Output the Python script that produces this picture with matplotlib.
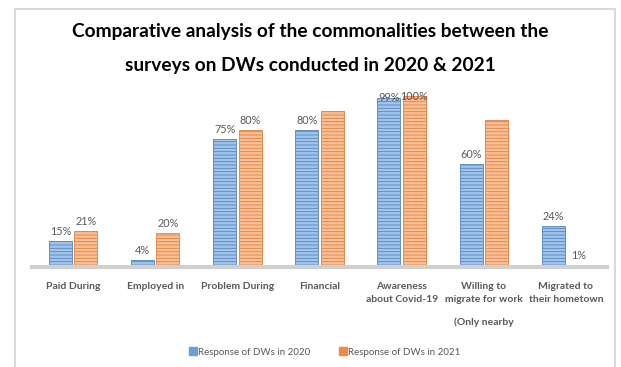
import matplotlib.pyplot as plt
from matplotlib.patches import Rectangle
import numpy as np

plt.rcParams['font.family'] = ['Lato', 'DejaVu Sans']
plt.rcParams['hatch.linewidth'] = 0.6

categories = ["Paid During", "Employed in", "Problem During", "Financial",
              "Awareness\nabout Covid-19", "Willing to\nmigrate for work",
              "Migrated to\ntheir hometown"]
resp_2020 = [15, 4, 75, 80, 99, 60, 24]
resp_2021 = [21, 20, 80, 91, 100, 86, 1]
# the 2021 series has no value label on Financial and Willing to migrate
show_2021 = [True, True, True, False, True, False, True]
series_names = ["Response of DWs in 2020", "Response of DWs in 2021"]

fig = plt.figure(figsize=(6.21, 3.67), dpi=100)

# light grey chart frame
fig.patches.append(Rectangle((15 / 621, -0.05), 600 / 621, 1.05 - 9 / 367,
                             transform=fig.transFigure, fill=False,
                             edgecolor='#d9d9d9', linewidth=1.5))

fig.text(0.5, 1 - 31 / 367,
         "Comparative analysis of the commonalities between the",
         ha='center', va='center', fontsize=13.8, fontweight='bold', color='black')
fig.text(0.5, 1 - 66 / 367, "surveys on DWs conducted in 2020 & 2021",
         ha='center', va='center', fontsize=13.8, fontweight='bold', color='black')

ax = fig.add_axes([32 / 621, 1 - 267 / 367, 575 / 621, 188 / 367])

x = np.arange(len(categories))
w = 0.28
gap = 0.015
b1 = ax.bar(x - w / 2 - gap, resp_2020, w, color='#a2c4ea', edgecolor='#5584bd',
            hatch='-----', linewidth=0.6)
b2 = ax.bar(x + w / 2 + gap, resp_2021, w, color='#f9c096', edgecolor='#e0813f',
            hatch='-----', linewidth=0.6)
# the 1% bar is very pale
b2[6].set_edgecolor('#f6d3b8')
b2[6].set_facecolor('#fbe3d0')

ax.set_xlim(-0.5, len(categories) - 0.5)
ax.set_ylim(0, 110)


def add_labels(bars, values, flags):
    for bar, v, f in zip(bars, values, flags):
        if not f:
            continue
        cx = bar.get_x() + bar.get_width() / 2
        if v >= 95:
            ax.text(cx, v, f"{v}%", ha='center', va='center', fontsize=7.8,
                    color='#595959')
        else:
            ax.annotate(f"{v}%", (cx, v), xytext=(0, 3), textcoords='offset points',
                        ha='center', va='bottom', fontsize=7.8, color='#595959')


add_labels(b1, resp_2020, [True] * len(resp_2020))
add_labels(b2, resp_2021, show_2021)

for s in ['top', 'right', 'left']:
    ax.spines[s].set_visible(False)
ax.spines['bottom'].set_color('#d0d0d0')
ax.spines['bottom'].set_linewidth(3)
ax.set_yticks([])
ax.set_xticks(x)
ax.set_xticklabels(categories, fontsize=7.5, fontweight='bold', color='#595959',
                   linespacing=1.6)
ax.tick_params(axis='x', length=0, pad=11)
ax.annotate("(Only nearby", (5, 0), xytext=(0, -55), textcoords='offset pixels',
            ha='center', va='center', fontsize=7.5, fontweight='bold',
            color='#595959', annotation_clip=False)

# legend with small square keys
handles = [Rectangle((0, 0), 1, 1, color='#6a9fd8'),
           Rectangle((0, 0), 1, 1, color='#ee8a4a')]
fig.legend(handles, series_names, loc='center', bbox_to_anchor=(325 / 621, 1 - 352 / 367),
           ncol=2, frameon=False, fontsize=7, handlelength=0.8, handleheight=0.8,
           handletextpad=0.1, columnspacing=3, labelcolor='#595959')

fig.savefig("out.png", dpi=100)
